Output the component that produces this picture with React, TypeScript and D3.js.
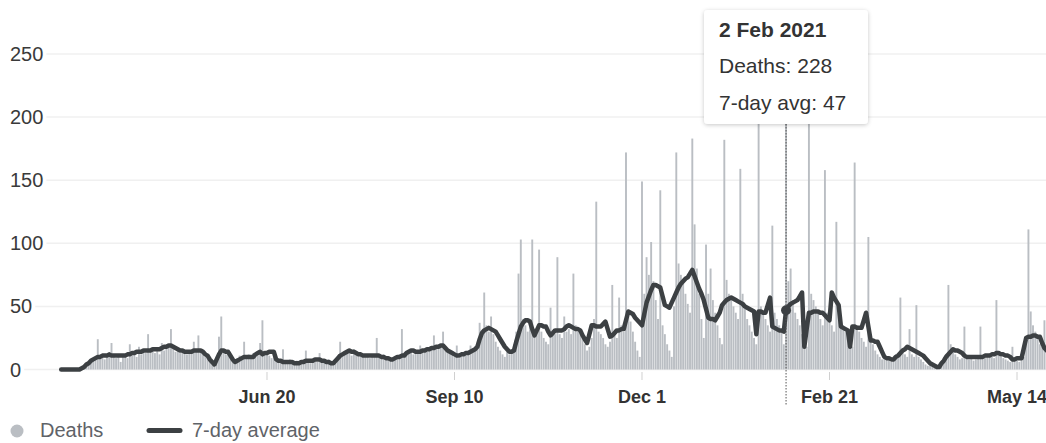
import { useEffect, useRef } from "react";
import * as d3 from "d3";

// daily series start on 22 Mar 2020, one value per day
const startDate = "2020-03-22";

const deaths = [
  0, 0, 0, 0, 0, 0, 0,
  0, 0, 2, 3, 5, 6, 8,
  9, 10, 24, 9, 11, 8, 12,
  10, 21, 10, 9, 12, 6, 11,
  10, 9, 20, 11, 13, 10, 18,
  12, 14, 13, 28, 14, 15, 13,
  16, 12, 21, 15, 17, 18, 32,
  17, 14, 16, 13, 15, 14, 12,
  15, 13, 22, 14, 27, 15, 13,
  10, 11, 8, 4, 3, 10, 26,
  42, 14, 12, 13, 10, 6, 8,
  9, 11, 10, 22, 11, 12, 9,
  13, 10, 11, 21, 39, 12, 13,
  11, 9, 12, 10, 6, 7, 16,
  7, 6, 8, 5, 6, 7, 5,
  6, 8, 15, 6, 5, 7, 8,
  6, 13, 7, 6, 5, 8, 6,
  4, 5, 9, 22, 12, 14, 13,
  15, 11, 16, 13, 12, 11, 10,
  12, 11, 9, 12, 10, 25, 11,
  10, 12, 8, 9, 7, 8, 10,
  11, 12, 32, 12, 13, 14, 15,
  12, 14, 13, 19, 15, 16, 14,
  17, 18, 27, 18, 17, 19, 30,
  16, 14, 15, 12, 10, 19, 9,
  10, 12, 11, 13, 19, 15, 18,
  20, 37, 28, 61, 35, 30, 42,
  28, 22, 18, 15, 12, 10, 14,
  12, 16, 20, 30, 76, 103, 40,
  35, 30, 38, 103, 32, 28, 95,
  30, 25, 22, 20, 49, 30, 28,
  89, 28, 25, 42, 30, 32, 28,
  76, 35, 30, 28, 25, 20, 15,
  18, 25, 40, 133, 30, 28, 25,
  20, 18, 22, 67, 28, 25, 57,
  35, 30, 172, 45, 38, 30, 22,
  15, 10, 149, 60, 89, 75, 101,
  70, 55, 40, 142, 35, 28, 20,
  15, 10, 50, 172, 84, 75, 68,
  60, 52, 45, 183, 115, 80, 60,
  40, 25, 99, 60, 80, 55, 45,
  35, 25, 20, 182, 71, 60, 55,
  50, 45, 40, 159, 60, 50, 40,
  35, 30, 25, 20, 205, 50, 45,
  40, 35, 30, 114, 45, 40, 35,
  30, 20, 228, 70, 80, 55, 45,
  40, 35, 28, 22, 18, 200, 60,
  55, 50, 45, 40, 35, 158, 45,
  40, 35, 30, 117, 45, 40, 35,
  30, 25, 20, 18, 164, 35, 30,
  25, 22, 18, 105, 25, 20, 15,
  12, 10, 8, 12, 10, 8, 6,
  9, 12, 10, 57, 15, 12, 10,
  32, 12, 10, 51, 10, 8, 6,
  4, 3, 5, 4, 3, 2, 4,
  6, 10, 12, 67, 20, 15, 12,
  10, 8, 9, 34, 10, 8, 9,
  7, 8, 10, 34, 10, 9, 11,
  12, 10, 9, 55, 12, 10, 9,
  8, 7, 6, 18, 8, 7, 6,
  8, 10, 20, 111, 46, 35, 30,
  25, 20, 18, 39, 15, 12,
];

const avg7 = [
  0, 0, 0, 0, 0, 0, 0,
  0, 0, 1, 2, 4, 5, 7,
  8, 9, 10, 10, 11, 11, 11,
  12, 11, 11, 11, 11, 11, 11,
  11, 12, 12, 13, 13, 14, 14,
  14, 15, 15, 15, 15, 16, 16,
  16, 16, 17, 18, 18, 19, 19,
  18, 17, 16, 15, 15, 14, 14,
  14, 14, 15, 15, 15, 15, 14,
  12, 11, 8, 6, 4, 8, 12,
  15, 15, 14, 14, 11, 8, 6,
  7, 8, 9, 10, 10, 10, 10,
  10, 12, 13, 14, 12, 13, 13,
  14, 14, 14, 8, 7, 7, 6,
  6, 6, 6, 6, 5, 5, 5,
  6, 6, 7, 7, 7, 7, 8,
  8, 8, 7, 7, 6, 6, 5,
  5, 7, 9, 11, 12, 13, 14,
  15, 14, 14, 13, 12, 12, 11,
  11, 11, 11, 11, 11, 11, 11,
  10, 10, 9, 9, 8, 8, 9,
  10, 10, 11, 11, 13, 14, 15,
  15, 14, 14, 14, 15, 15, 16,
  16, 17, 17, 18, 18, 19, 19,
  17, 15, 14, 13, 12, 11, 11,
  12, 12, 13, 13, 14, 15, 16,
  18, 24, 29, 31, 32, 33, 32,
  31, 30, 27, 24, 21, 18, 16,
  14, 14, 15, 22, 28, 34, 37,
  39, 39, 38, 32, 27, 31, 35,
  35, 34, 34, 30, 27, 29, 31,
  31, 31, 31, 32, 34, 35, 34,
  33, 32, 32, 31, 27, 24, 21,
  28, 35, 35, 34, 34, 34, 36,
  38, 32, 26, 27, 29, 31, 31,
  32, 32, 39, 46, 45, 44, 41,
  39, 37, 35, 44, 53, 58, 63,
  67, 67, 66, 65, 58, 51, 50,
  49, 53, 57, 61, 65, 68, 70,
  72, 73, 76, 79, 74, 69, 64,
  60, 55, 48, 41, 40, 40, 39,
  42, 45, 51, 53, 55, 56, 57,
  56, 55, 54, 53, 52, 50, 49,
  48, 47, 46, 28, 46, 46, 45,
  45, 51, 57, 34, 33, 32, 31,
  31, 30, 47, 50, 52, 53, 54,
  55, 58, 61, 18, 32, 45, 45,
  46, 46, 46, 45, 45, 43, 41,
  39, 61, 57, 54, 51, 34, 33,
  32, 31, 18, 34, 34, 33, 33,
  33, 39, 45, 34, 23, 23, 22,
  22, 18, 14, 10, 9, 9, 8,
  8, 10, 11, 13, 15, 16, 18,
  17, 16, 15, 14, 13, 12, 11,
  9, 7, 5, 4, 3, 2, 2,
  5, 7, 10, 12, 14, 16, 15,
  15, 14, 13, 11, 10, 10, 10,
  10, 10, 10, 10, 10, 11, 11,
  11, 12, 12, 13, 13, 12, 12,
  11, 11, 10, 8, 8, 9, 9,
  9, 17, 25, 26, 26, 27, 27,
  26, 26, 21, 17, 15, 14,
];

const yTicks = [0, 50, 100, 150, 200, 250];
const xTickDates = ["2020-06-20", "2020-09-10", "2020-12-01", "2021-02-21", "2021-05-14"];
const xTickLabels = ["Jun 20", "Sep 10", "Dec 1", "Feb 21", "May 14"];

const hoverDate = "2021-02-02";
const hoverTitle = "2 Feb 2021";

const legendItems = ["Deaths", "7-day average"];

const FONT = "'Liberation Sans', Arial, sans-serif";
const BAR_COLOR = "#babec3";
const LINE_COLOR = "#3c4043";

const App = () => {
  const svgRef = useRef<SVGSVGElement>(null);

  useEffect(() => {
    const svg = d3.select(svgRef.current);
    svg.selectAll("*").remove();

    const width = 1046;
    const parse = d3.utcParse("%Y-%m-%d");
    const start = parse(startDate)!;
    const dates = deaths.map((_, i) => d3.utcDay.offset(start, i));

    // time scale: 22 Mar 2020 -> 61px, 14 May 2021 -> 1017px
    const x = d3.scaleUtc()
      .domain([start, parse("2021-05-14")!])
      .range([61.2, 1017]);

    const y = d3.scaleLinear()
      .domain([0, 250])
      .range([369.5, 54]);

    const defs = svg.append("defs");
    const filter = defs.append("filter")
      .attr("id", "tipShadow")
      .attr("x", "-20%").attr("y", "-20%")
      .attr("width", "140%").attr("height", "140%");
    filter.append("feDropShadow")
      .attr("dx", 0).attr("dy", 1)
      .attr("stdDeviation", 2.2)
      .attr("flood-color", "#000")
      .attr("flood-opacity", 0.22);

    // Y labels + grid lines (grid starts right after each label)
    const yAxis = svg.append("g");
    yTicks.forEach((t) => {
      const label = yAxis.append("text")
        .attr("x", 10)
        .attr("y", y(t) + 7)
        .attr("font-family", FONT)
        .attr("font-size", 20)
        .attr("fill", "#3a3a3a")
        .text(t);
      const w = (label.node() as SVGTextElement).getComputedTextLength();
      yAxis.insert("line", "text")
        .attr("x1", 10 + w + 3)
        .attr("x2", width)
        .attr("y1", y(t))
        .attr("y2", y(t))
        .attr("stroke", "#f0f0f0")
        .attr("stroke-width", 1.5);
    });

    // X ticks
    const xAxis = svg.append("g");
    xTickDates.forEach((d, i) => {
      const px = x(parse(d)!);
      xAxis.append("line")
        .attr("x1", px).attr("x2", px)
        .attr("y1", 372).attr("y2", 380)
        .attr("stroke", "#d0d0d0")
        .attr("stroke-width", 1);
      xAxis.append("text")
        .attr("x", px)
        .attr("y", 403)
        .attr("text-anchor", "middle")
        .attr("font-family", FONT)
        .attr("font-size", 18)
        .attr("font-weight", "bold")
        .attr("fill", "#333")
        .text(xTickLabels[i]);
    });

    // bars
    const bw = 1.9;
    svg.append("g")
      .selectAll("rect")
      .data(deaths)
      .enter()
      .append("rect")
      .attr("x", (_, i) => x(dates[i]) - bw / 2)
      .attr("y", (d) => y(d))
      .attr("width", bw)
      .attr("height", (d) => y(0) - y(d))
      .attr("fill", BAR_COLOR);

    // 7-day average line
    const line = d3.line<number>()
      .x((_, i) => x(dates[i]))
      .y((d) => y(d));
    svg.append("path")
      .datum(avg7)
      .attr("d", line)
      .attr("fill", "none")
      .attr("stroke", LINE_COLOR)
      .attr("stroke-width", 4.5)
      .attr("stroke-linejoin", "round")
      .attr("stroke-linecap", "round");

    // hover marker
    const hd = parse(hoverDate)!;
    const hi = d3.utcDay.count(start, hd);
    const hx = x(hd);
    svg.append("line")
      .attr("x1", hx).attr("x2", hx)
      .attr("y1", 124).attr("y2", 405)
      .attr("stroke", "#555")
      .attr("stroke-width", 1)
      .attr("stroke-dasharray", "1.5,1.5");
    svg.append("circle")
      .attr("cx", hx)
      .attr("cy", y(avg7[hi]))
      .attr("r", 5)
      .attr("fill", LINE_COLOR);

    // tooltip
    const tip = svg.append("g");
    tip.append("rect")
      .attr("x", 704).attr("y", 10)
      .attr("width", 164).attr("height", 114)
      .attr("rx", 4)
      .attr("fill", "#fff")
      .attr("filter", "url(#tipShadow)");
    const tipLines = [
      { text: hoverTitle, bold: true, y: 37 },
      { text: `Deaths: ${deaths[hi]}`, bold: false, y: 73 },
      { text: `7-day avg: ${avg7[hi]}`, bold: false, y: 110 },
    ];
    tipLines.forEach((l) => {
      tip.append("text")
        .attr("x", 719)
        .attr("y", l.y)
        .attr("font-family", FONT)
        .attr("font-size", 21)
        .attr("font-weight", l.bold ? "bold" : "normal")
        .attr("fill", "#333")
        .text(l.text);
    });

    // legend
    const legend = svg.append("g");
    legend.append("circle")
      .attr("cx", 17).attr("cy", 431)
      .attr("r", 6.5)
      .attr("fill", BAR_COLOR);
    legend.append("text")
      .attr("x", 40).attr("y", 437)
      .attr("font-family", FONT)
      .attr("font-size", 20)
      .attr("fill", "#5f6368")
      .text(legendItems[0]);
    legend.append("line")
      .attr("x1", 149).attr("x2", 180)
      .attr("y1", 430.5).attr("y2", 430.5)
      .attr("stroke", LINE_COLOR)
      .attr("stroke-width", 5)
      .attr("stroke-linecap", "round");
    legend.append("text")
      .attr("x", 192).attr("y", 437)
      .attr("font-family", FONT)
      .attr("font-size", 20)
      .attr("fill", "#5f6368")
      .text(legendItems[1]);
  }, []);

  return (
    <svg
      ref={svgRef}
      width={1046}
      height={443}
      style={{ position: "absolute", left: 0, top: 0, background: "#fff" }}
    ></svg>
  );
};

export default App;
